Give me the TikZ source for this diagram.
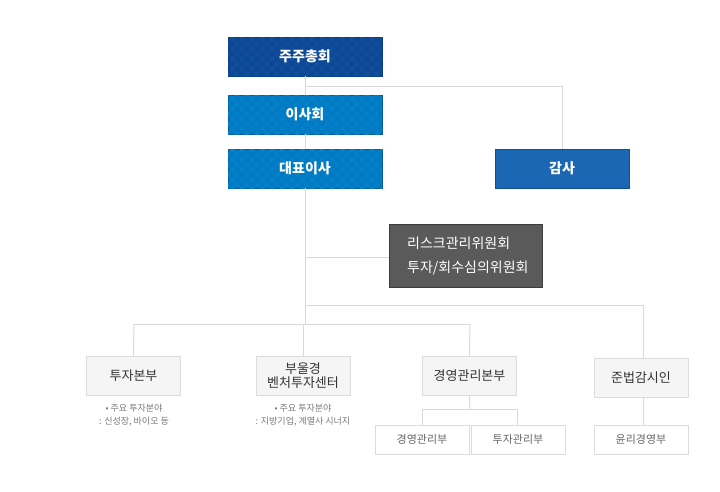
\documentclass[tikz,border=0pt]{standalone}
\usepackage{fontspec}
\setmainfont{Noto Sans CJK KR}
\newfontfamily\kr{Noto Sans CJK KR}
\usetikzlibrary{patterns}
\pgfdeclarepatternformonly{bigcheck}{\pgfpointorigin}{\pgfqpoint{10pt}{10pt}}{\pgfqpoint{10pt}{10pt}}{%
  \pgfpathrectangle{\pgfpointorigin}{\pgfqpoint{5pt}{5pt}}%
  \pgfpathrectangle{\pgfqpoint{5pt}{5pt}}{\pgfqpoint{5pt}{5pt}}%
  \pgfusepath{fill}}
\definecolor{topfill}{HTML}{0D4894}
\definecolor{topchk}{HTML}{104D9B}
\definecolor{topdraw}{HTML}{0A3A7E}
\definecolor{midfill}{HTML}{007AC3}
\definecolor{midchk}{HTML}{0580C8}
\definecolor{middraw}{HTML}{0A5C9A}
\definecolor{audfill}{HTML}{1C67B4}
\definecolor{auddraw}{HTML}{134F8E}
\definecolor{riskfill}{HTML}{5A5A5A}
\definecolor{riskdraw}{HTML}{3C3C3C}
\definecolor{linec}{HTML}{D9D9D9}
\definecolor{divfill}{HTML}{F5F5F5}
\definecolor{divdraw}{HTML}{DCDCDC}
\definecolor{divtext}{HTML}{333333}
\definecolor{subtext}{HTML}{666666}
\definecolor{notetext}{HTML}{777777}
\tikzset{
  boxbase/.style={rectangle, inner sep=0pt, outer sep=0pt, font=\kr\fontsize{14}{16}\selectfont\bfseries, text=white},
  topbox/.style={boxbase, fill=topfill, draw=topdraw, line width=1pt, minimum width=154pt, minimum height=39pt,
    postaction={pattern=bigcheck, pattern color=topchk}},
  midbox/.style={boxbase, fill=midfill, draw=middraw, line width=1pt, minimum width=154pt, minimum height=39pt,
    postaction={pattern=bigcheck, pattern color=midchk}},
  audbox/.style={boxbase, fill=audfill, draw=auddraw, line width=1pt, minimum width=134pt, minimum height=39pt},
  riskbox/.style={rectangle, fill=riskfill, draw=riskdraw, line width=1pt, minimum width=153pt, minimum height=63pt,
    inner sep=0pt},
  risktext/.style={text=white, font=\kr\fontsize{14}{24}\selectfont, align=left, inner sep=0pt},
  divbox/.style={rectangle, fill=divfill, draw=divdraw, line width=0.8pt, minimum width=94pt, minimum height=39pt,
    inner sep=0pt, text=divtext, font=\kr\fontsize{13}{15}\selectfont, align=center},
  subbox/.style={rectangle, fill=white, draw=divdraw, line width=0.8pt, minimum width=94pt, minimum height=29pt,
    inner sep=0pt, text=subtext, font=\kr\fontsize{11}{13}\selectfont},
  note/.style={text=notetext, font=\kr\fontsize{9}{13}\selectfont, align=center, inner sep=0pt},
  conn/.style={draw=linec, line width=1pt}
}
\begin{document}
\begin{tikzpicture}[x=1pt,y=-1pt]
\useasboundingbox (0,0) rectangle (720,491);
% nodes
\node[topbox] (gm) at (305,56.5) {주주총회};
\node[midbox] (bd) at (305,114.5) {이사회};
\node[midbox] (ceo) at (305,168.5) {대표이사};
\node[audbox] (aud) at (562,168.5) {감사};
\node[riskbox] (risk) at (465.5,255.5) {};
\node[risktext, anchor=west] (risktxt) at (407,255.5) {리스크관리위원회\\투자/회수심의위원회};
\node[divbox] (inv) at (133.5,375.5) {투자본부};
\node[divbox] (bvc) at (303,375.5) {부울경\\[-1pt]벤처투자센터};
\node[divbox] (mgmt) at (469.5,375.5) {경영관리본부};
\node[divbox] (comp) at (641,378) {준법감시인};
\node[subbox] (mg1) at (422,439.5) {경영관리부};
\node[subbox] (mg2) at (518,439.5) {투자관리부};
\node[subbox] (eth) at (641,439.5) {윤리경영부};
\node[note] (n1) at (134,415.5) {• 주요 투자분야\\: 신성장, 바이오 등};
\node[note] (n2) at (303,415.5) {• 주요 투자분야\\: 지방기업, 계열사 시너지};
% connector coordinates
\coordinate (j1) at (305,86);
\coordinate (j1r) at (562,86);
\coordinate (jr) at (305,257);
\coordinate (j2) at (305,305);
\coordinate (j2r) at (643,305);
\coordinate (j3) at (305,324);
\coordinate (j3l) at (134,324);
\coordinate (j3m) at (303,324);
\coordinate (j3r) at (470,324);
\coordinate (k1) at (422,409);
\coordinate (k2) at (517,409);
\coordinate (k0) at (470,409);
% connectors
\draw[conn] (gm.south) -- (bd.north);
\draw[conn] (bd.south) -- (ceo.north);
\draw[conn] (j1) -- (j1r) -- (aud.north);
\draw[conn] (ceo.south) -- (j3);
\draw[conn] (jr) -- (jr -| risk.west);
\draw[conn] (j2) -- (j2r) -- (j2r |- comp.north);
\draw[conn] (j3l) -- (j3r);
\draw[conn] (j3l) -- (inv.north);
\draw[conn] (j3m) -- (bvc.north);
\draw[conn] (j3r) -- (mgmt.north);
\draw[conn] (mgmt.south) -- (k0);
\draw[conn] (k1) -- (k2);
\draw[conn] (k1) -- (k1 |- mg1.north);
\draw[conn] (k2) -- (k2 |- mg2.north);
\draw[conn] (j2r |- comp.south) -- (j2r |- eth.north);
\end{tikzpicture}
\end{document}
